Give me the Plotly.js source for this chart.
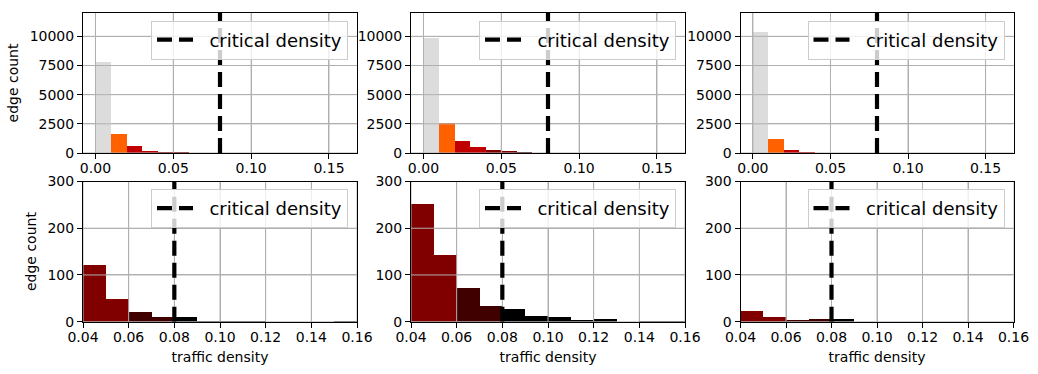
<!DOCTYPE html>
<html><head><meta charset="utf-8">
<script src="https://cdn.plot.ly/plotly-3.0.1.min.js"></script>
<style>html,body{margin:0;padding:0;background:#fff}#chart{width:1038px;height:374px}</style>
</head><body><div id="chart"></div>
<script>
// ---- data ----
const binStart = [0.00,0.01,0.02,0.03,0.04,0.05,0.06,0.07,0.08,0.09,0.10,0.11,0.12,0.13,0.14,0.15];
const binWidth = 0.01;
const countsLeft   = [7800,1650,620,200,122,48,20,10,10,2,2,2,0,0,0,2];
const countsMiddle = [9850,2580,1030,540,251,143,73,33,27,12,10,3,5,0,2,2];
const countsRight  = [10350,1200,260,110,22,10,3,5,5,0,0,0,0,0,0,0];
const criticalDensity = 0.08;
const legendLabel = 'critical density';
const xTitleText = 'traffic density';
const yTitleText = 'edge count';
const topXTicks = [0.00,0.05,0.10,0.15];
const topYTicks = [0,2500,5000,7500,10000];
const bottomXTicks = [0.04,0.06,0.08,0.10,0.12,0.14,0.16];
const bottomYTicks = [0,100,200,300];

// ---- styles / layout constants ----
const W = 1038, H = 374;
const FONT = 'DejaVu Sans, Liberation Sans, sans-serif';
const GRID = '#b0b0b0';
const LEGEND_PAD = '\u00a0\u00a0'; // gap between legend line sample and label
const colorStops = [[0.01,'#dcdcdc'],[0.02,'#ff6000'],[0.04,'#c00000'],[0.06,'#800000'],[0.08,'#400000'],[Infinity,'#000000']];
function binColor(s){ for (const [lim,c] of colorStops){ if (s < lim - 1e-9) return c; } return '#000'; }
const panelX = [[83,357],[411,685],[740.5,1013.5]];
const rowY = [[13,153],[181.5,321.7]];
const topXRange = [-0.008,0.168], topYRange = [0,12000];
const botXRange = [0.04,0.16], botYRange = [0,300];
const allCounts = [countsLeft,countsMiddle,countsRight];

const traces = [];
const layout = {
  width: W, height: H, margin:{l:0,r:0,t:0,b:0},
  paper_bgcolor:'#fff', plot_bgcolor:'#fff',
  font:{family:FONT,size:14,color:'#000'},
  bargap:0, barmode:'overlay', showlegend:true
};

// grid drawn above the bars (as in the reference), below the dashed line
function gridTrace(xTicks, yTicks, xRange, yRange, xa, ya){
  const gx = [], gy = [];
  xTicks.forEach(v => { gx.push(v, v, null); gy.push(yRange[0], yRange[1], null); });
  yTicks.forEach(v => { gx.push(xRange[0], xRange[1], null); gy.push(v, v, null); });
  return {type:'scatter', mode:'lines', x:gx, y:gy, line:{color:GRID, width:1},
          xaxis:xa, yaxis:ya, showlegend:false, hoverinfo:'skip', cliponaxis:true};
}

let idx = 0;
for (let r = 0; r < 2; r++) {
  for (let c = 0; c < 3; c++) {
    idx++;
    const sfx = idx === 1 ? '' : String(idx);
    const xa = 'x'+sfx, ya = 'y'+sfx;
    const counts = allCounts[c];
    const yRange = r === 0 ? topYRange : botYRange;
    const xRange = r === 0 ? topXRange : botXRange;
    const xTicks = r === 0 ? topXTicks : bottomXTicks;
    const yTicks = r === 0 ? topYTicks : bottomYTicks;
    traces.push({
      type:'bar', x: binStart.map(s => s + binWidth/2), y: counts, width: binWidth,
      marker:{color: binStart.map(binColor), line:{width:0}},
      xaxis: xa, yaxis: ya, showlegend:false, hoverinfo:'x+y'
    });
    traces.push(gridTrace(xTicks, yTicks, xRange, yRange, xa, ya));
    traces.push({
      type:'scatter', mode:'lines', x:[criticalDensity,criticalDensity], y:[yRange[0], yRange[1]],
      line:{color:'#000', width:4.2, dash:'15px,7px'},
      name: LEGEND_PAD + legendLabel, xaxis: xa, yaxis: ya, legend: 'legend'+sfx, showlegend:true
    });
    const [x0,x1] = panelX[c], [y0,y1] = rowY[r];
    const common = {
      showline:true, mirror:true, linecolor:'#000', linewidth:1,
      ticks:'outside', ticklen:5, tickwidth:1, tickcolor:'#000',
      showgrid:true, gridcolor:GRID, gridwidth:1, zeroline:false,
      tickfont:{family:FONT,size:14,color:'#000'}, fixedrange:true
    };
    layout['xaxis'+sfx] = Object.assign({}, common, {
      domain:[x0/W, x1/W], anchor: ya, range: xRange,
      tickvals: xTicks, tickformat:'.2f', ticklabelstandoff:-3,
      title: r === 1 ? {text:xTitleText, font:{family:FONT,size:14,color:'#000'}, standoff:8} : {text:''}
    });
    layout['yaxis'+sfx] = Object.assign({}, common, {
      domain:[1 - y1/H, 1 - y0/H], anchor: xa, range: yRange,
      tickvals: yTicks, tickformat:'d',
      title: c === 0 ? {text:yTitleText, font:{family:FONT,size:14,color:'#000'}, standoff:7} : {text:''}
    });
    layout['legend'+sfx] = {
      x: (x1 - 9)/W, xanchor:'right', y: 1 - (y0 + 7.5)/H, yanchor:'top',
      bgcolor:'rgba(255,255,255,0.8)', bordercolor:'#cccccc', borderwidth:1,
      font:{family:FONT,size:18,color:'#000'}, itemwidth:36
    };
  }
}

Plotly.newPlot('chart', traces, layout, {staticPlot:true, displayModeBar:false});
</script>
</body></html>
